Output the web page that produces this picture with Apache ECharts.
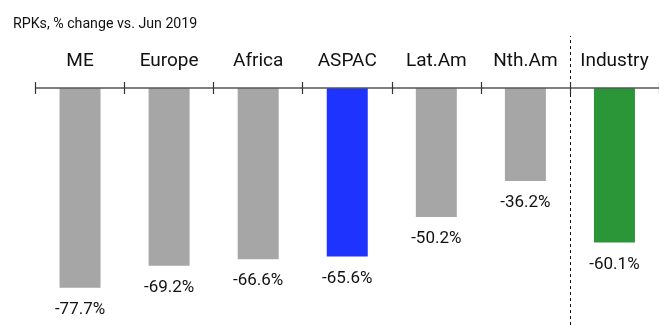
<!DOCTYPE html>
<html>
<head>
<meta charset="utf-8">
<script src="https://cdn.jsdelivr.net/npm/echarts@6/dist/echarts.min.js"></script>
<style>
html,body{margin:0;padding:0;background:#fff;}
#chart{width:659px;height:325px;}
</style>
</head>
<body>
<div id="chart"></div>
<script>
const subtitle = 'RPKs, % change vs. Jun 2019';
const categories = ['ME', 'Europe', 'Africa', 'ASPAC', 'Lat.Am', 'Nth.Am', 'Industry'];
const values = [-77.7, -69.2, -66.6, -65.6, -50.2, -36.2, -60.1];
const barColors = ['#a6a6a6', '#a6a6a6', '#a6a6a6', '#1f33ff', '#a6a6a6', '#a6a6a6', '#2a9638'];
const dividerIndex = 6;

const FONT = 'Roboto';
const chart = echarts.init(document.getElementById('chart'), null, {renderer: 'canvas'});
chart.setOption({
  animation: false,
  backgroundColor: '#ffffff',
  textStyle: {fontFamily: FONT},
  title: {
    text: subtitle,
    left: 8, top: 12,
    textStyle: {fontFamily: FONT, fontSize: 14.2, fontWeight: 'normal', color: '#111'}
  },
  grid: [
    {left: 35.5, width: 628, top: 88, bottom: 31.4, containLabel: false},
    {left: 35.5, width: 628, top: 36, bottom: 0, containLabel: false}
  ],
  xAxis: [
    {
      type: 'category', data: categories, gridIndex: 0, position: 'top',
      axisLine: {show: true, lineStyle: {color: '#555', width: 1.5}},
      axisTick: {show: true, length: 6, alignWithLabel: false, lineStyle: {color: '#333', width: 1.2}},
      axisLabel: {margin: 17, fontFamily: FONT, fontSize: 19, color: '#111'},
      splitLine: {show: false},
      z: 5
    },
    {
      type: 'category', data: categories, gridIndex: 0, position: 'top',
      axisLine: {show: false},
      axisTick: {show: true, inside: true, length: 6, lineStyle: {color: '#333', width: 1.2}},
      axisLabel: {show: false},
      splitLine: {show: false},
      z: 5
    },
    {
      type: 'value', gridIndex: 1, min: 0, max: categories.length, show: false
    }
  ],
  yAxis: [
    {type: 'value', gridIndex: 0, min: -80, max: 0, show: false},
    {type: 'value', gridIndex: 1, min: 0, max: 1, show: false}
  ],
  series: [{
    type: 'bar',
    xAxisIndex: 0, yAxisIndex: 0,
    barWidth: 41,
    data: values.map((v, i) => ({value: v, itemStyle: {color: barColors[i]}})),
    label: {
      show: true, position: 'bottom', distance: 13.5,
      fontFamily: FONT, fontSize: 17, color: '#111',
      formatter: p => p.value.toFixed(1) + '%'
    }
  }, {
    type: 'line',
    xAxisIndex: 2, yAxisIndex: 1,
    data: [],
    markLine: {
      silent: true,
      symbol: ['none', 'none'],
      label: {show: false},
      lineStyle: {color: '#111', width: 1, type: [3, 3]},
      data: [{xAxis: dividerIndex}]
    }
  }]
});
</script>
</body>
</html>
